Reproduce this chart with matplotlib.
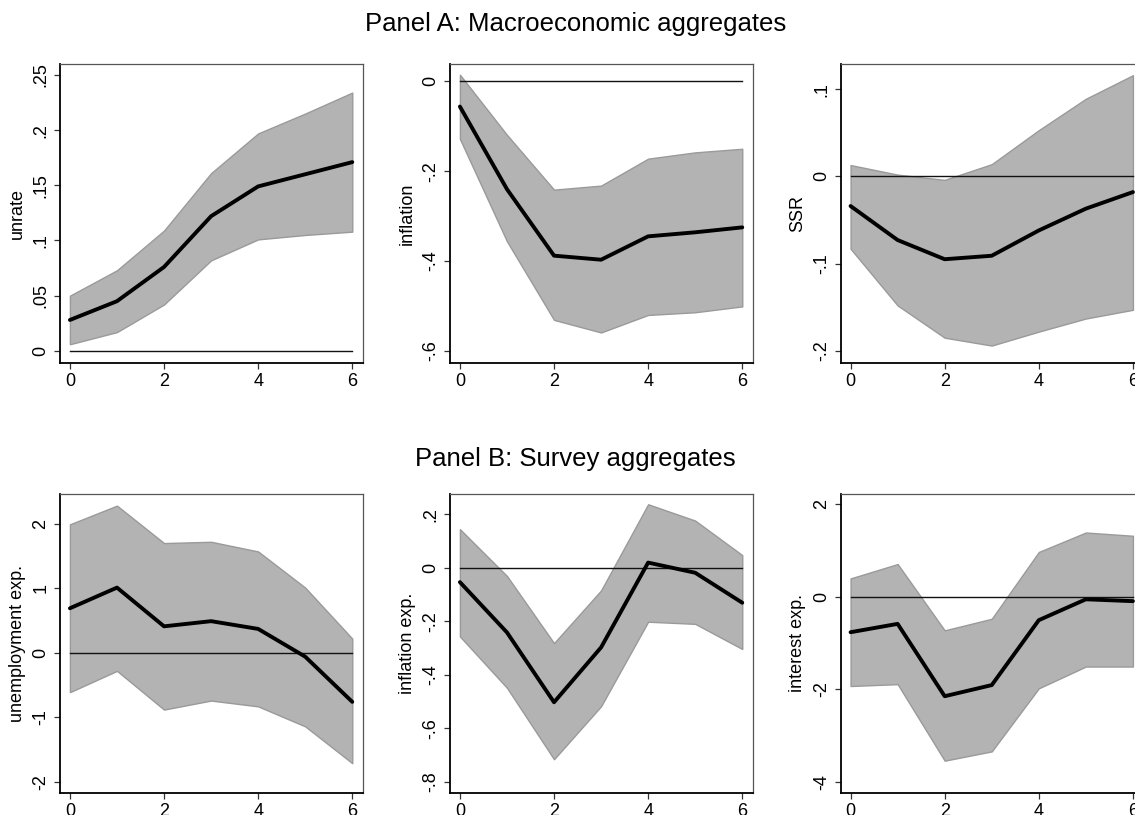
import matplotlib.pyplot as plt

plt.rcParams['font.family'] = ['Liberation Sans', 'DejaVu Sans']

horizon = [0, 1, 2, 3, 4, 5, 6]

# Panel A: Macroeconomic aggregates
unrate = [0.028, 0.045, 0.076, 0.122, 0.149, 0.160, 0.171]
unrate_hi = [0.050, 0.073, 0.109, 0.161, 0.197, 0.215, 0.234]
unrate_lo = [0.006, 0.017, 0.042, 0.082, 0.101, 0.105, 0.108]

inflation = [-0.056, -0.240, -0.388, -0.397, -0.345, -0.336, -0.325]
inflation_hi = [0.015, -0.119, -0.241, -0.232, -0.172, -0.158, -0.150]
inflation_lo = [-0.128, -0.356, -0.531, -0.559, -0.520, -0.514, -0.501]

ssr = [-0.034, -0.073, -0.095, -0.091, -0.062, -0.037, -0.018]
ssr_hi = [0.013, 0.002, -0.004, 0.014, 0.053, 0.089, 0.116]
ssr_lo = [-0.083, -0.148, -0.185, -0.194, -0.178, -0.163, -0.153]

# Panel B: Survey aggregates
unemp_exp = [0.69, 1.01, 0.41, 0.49, 0.37, -0.06, -0.76]
unemp_exp_hi = [1.99, 2.28, 1.70, 1.72, 1.57, 1.01, 0.22]
unemp_exp_lo = [-0.61, -0.28, -0.88, -0.74, -0.83, -1.14, -1.71]

infl_exp = [-0.053, -0.241, -0.502, -0.297, 0.020, -0.018, -0.130]
infl_exp_hi = [0.145, -0.030, -0.281, -0.084, 0.238, 0.177, 0.048]
infl_exp_lo = [-0.256, -0.448, -0.715, -0.517, -0.201, -0.209, -0.303]

int_exp = [-0.77, -0.59, -2.15, -1.91, -0.51, -0.06, -0.10]
int_exp_hi = [0.39, 0.70, -0.73, -0.48, 0.96, 1.38, 1.31]
int_exp_lo = [-1.93, -1.89, -3.54, -3.34, -1.98, -1.51, -1.51]

x_ticks = [0, 2, 4, 6]


def draw_irf(ax, mean, lo, hi, ylabel, yticks, yticklabels, ylim):
    ax.fill_between(horizon, lo, hi, facecolor='#b3b3b3', edgecolor='#9a9a9a', linewidth=1.0, zorder=1)
    ax.plot([horizon[0], horizon[-1]], [0, 0], color='#111111', linewidth=1.0, zorder=2)
    ax.plot(horizon, mean, color='black', linewidth=2.8, zorder=3, solid_capstyle='round')

    ax.set_xlim(-0.21, 6.23)
    ax.set_ylim(*ylim)
    ax.set_xticks(x_ticks)
    ax.set_xticklabels([str(t) for t in x_ticks], fontsize=13)
    ax.set_yticks(yticks)
    ax.set_yticklabels(yticklabels, fontsize=13, rotation=90, va='center')
    ax.set_ylabel(ylabel, fontsize=13, labelpad=5)
    ax.tick_params(direction='out', length=4.5, width=0.9, pad=3, color='#333333')

    for side in ['left', 'bottom']:
        ax.spines[side].set_color('black')
        ax.spines[side].set_linewidth(1.3)
    for side in ['top', 'right']:
        ax.spines[side].set_color('#555555')
        ax.spines[side].set_linewidth(0.9)


def main():
    fig = plt.figure(figsize=(11.35, 8.15), dpi=100)

    cols = [0.0529, 0.3965, 0.7407]
    width = 0.267
    rows = [0.5546, 0.0274]
    height = 0.367

    fig.text(0.507, 0.971, 'Panel A: Macroeconomic aggregates', fontsize=18.5, ha='center', va='center')
    fig.text(0.507, 0.437, 'Panel B: Survey aggregates', fontsize=18.5, ha='center', va='center')

    ax = fig.add_axes([cols[0], rows[0], width, height])
    draw_irf(ax, unrate, unrate_lo, unrate_hi, 'unrate',
             [0, 0.05, 0.1, 0.15, 0.2, 0.25], ['0', '.05', '.1', '.15', '.2', '.25'], (-0.011, 0.26))

    ax = fig.add_axes([cols[1], rows[0], width, height])
    draw_irf(ax, inflation, inflation_lo, inflation_hi, 'inflation',
             [-0.6, -0.4, -0.2, 0], ['-.6', '-.4', '-.2', '0'], (-0.627, 0.039))

    ax = fig.add_axes([cols[2], rows[0], width, height])
    draw_irf(ax, ssr, ssr_lo, ssr_hi, 'SSR',
             [-0.2, -0.1, 0, 0.1], ['-.2', '-.1', '0', '.1'], (-0.214, 0.129))

    ax = fig.add_axes([cols[0], rows[1], width, height])
    draw_irf(ax, unemp_exp, unemp_exp_lo, unemp_exp_hi, 'unemployment exp.',
             [-2, -1, 0, 1, 2], ['-2', '-1', '0', '1', '2'], (-2.167, 2.467))

    ax = fig.add_axes([cols[1], rows[1], width, height])
    draw_irf(ax, infl_exp, infl_exp_lo, infl_exp_hi, 'inflation exp.',
             [-0.8, -0.6, -0.4, -0.2, 0, 0.2], ['-.8', '-.6', '-.4', '-.2', '0', '.2'], (-0.84, 0.278))

    ax = fig.add_axes([cols[2], rows[1], width, height])
    draw_irf(ax, int_exp, int_exp_lo, int_exp_hi, 'interest exp.',
             [-4, -2, 0, 2], ['-4', '-2', '0', '2'], (-4.23, 2.22))

    fig.savefig('out.png', dpi=100)


if __name__ == '__main__':
    main()
